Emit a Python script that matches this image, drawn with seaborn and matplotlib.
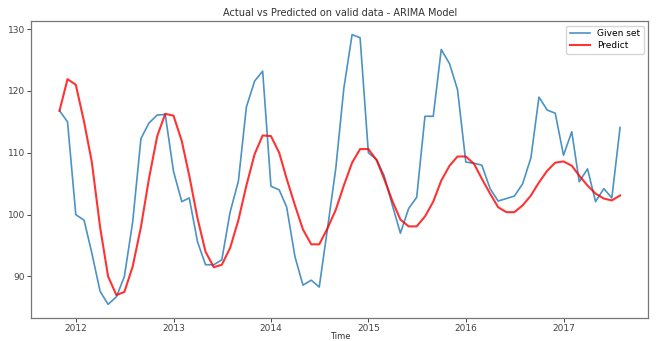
import numpy as np
import pandas as pd
import matplotlib
matplotlib.use("Agg")
import matplotlib.pyplot as plt
import seaborn as sns

# Monthly validation window: Nov 2011 .. Aug 2017
months = pd.date_range("2011-11-01", "2017-08-01", freq="MS")

given_set = [
    116.8, 115.0, 100.0, 99.1, 93.8, 87.6, 85.5, 86.7, 90.0, 98.8,
    112.3, 114.8, 116.1, 116.2, 107.0, 102.1, 102.7, 95.6, 91.9, 91.9,
    92.7, 100.4, 105.4, 117.4, 121.6, 123.2, 104.6, 104.0, 101.2, 93.2,
    88.6, 89.4, 88.3, 97.8, 107.5, 120.4, 129.1, 128.6, 110.0, 108.9,
    106.3, 101.5, 97.0, 101.0, 102.8, 115.9, 115.9, 126.7, 124.4, 120.2,
    108.5, 108.3, 108.0, 104.2, 102.2, 102.6, 103.0, 105.0, 109.2, 119.0,
    116.9, 116.4, 109.6, 113.4, 105.3, 107.4, 102.1, 104.2, 102.7, 114.1,
]

predict = [
    116.8, 121.9, 121.0, 115.0, 108.5, 98.0, 90.0, 87.0, 87.5, 91.6,
    98.0, 105.8, 112.7, 116.3, 116.0, 111.9, 106.3, 99.4, 94.0, 91.5,
    91.9, 94.6, 99.1, 104.7, 109.8, 112.8, 112.7, 110.0, 105.8, 101.5,
    97.6, 95.2, 95.2, 97.8, 100.8, 104.7, 108.4, 110.6, 110.6, 108.8,
    105.8, 102.2, 99.2, 98.1, 98.1, 99.7, 102.1, 105.5, 107.9, 109.4,
    109.4, 108.2, 105.8, 103.4, 101.2, 100.4, 100.4, 101.5, 103.1, 105.2,
    107.1, 108.4, 108.6, 107.9, 106.3, 104.7, 103.4, 102.6, 102.3, 103.1,
]

df = pd.DataFrame({"Time": months, "Given set": given_set, "Predict": predict})

plt.rcParams["font.family"] = ["DejaVu Sans"]
plt.rcParams["font.size"] = 6.5

fig = plt.figure(figsize=(6.56, 3.41), dpi=100)
ax = fig.add_axes([0.048, 0.068, 0.94, 0.870])

sns.lineplot(data=df, x="Time", y="Given set", ax=ax, color="#1f77b4",
             linewidth=1.2, alpha=0.8, label="Given set")
sns.lineplot(data=df, x="Time", y="Predict", ax=ax, color="red",
             linewidth=1.5, alpha=0.8, label="Predict")

ax.set_title("Actual vs Predicted on valid data - ARIMA Model", fontsize=7, color="#333333", pad=4)
ax.set_xlabel("Time", fontsize=6, color="#333333", labelpad=-1)
ax.set_ylabel("")
ax.set_yticks([90, 100, 110, 120, 130])
ax.margins(x=0.05, y=0.05)

for s in ax.spines.values():
    s.set_color("#777777")
    s.set_linewidth(0.9)
ax.tick_params(colors="#444444", labelsize=6.5, length=3, width=0.7, pad=1.5)

ax.legend(loc="upper right", fontsize=6.5, frameon=True, handlelength=2.2,
          borderpad=0.4, labelspacing=0.3)

fig.savefig("out.png", dpi=100)
